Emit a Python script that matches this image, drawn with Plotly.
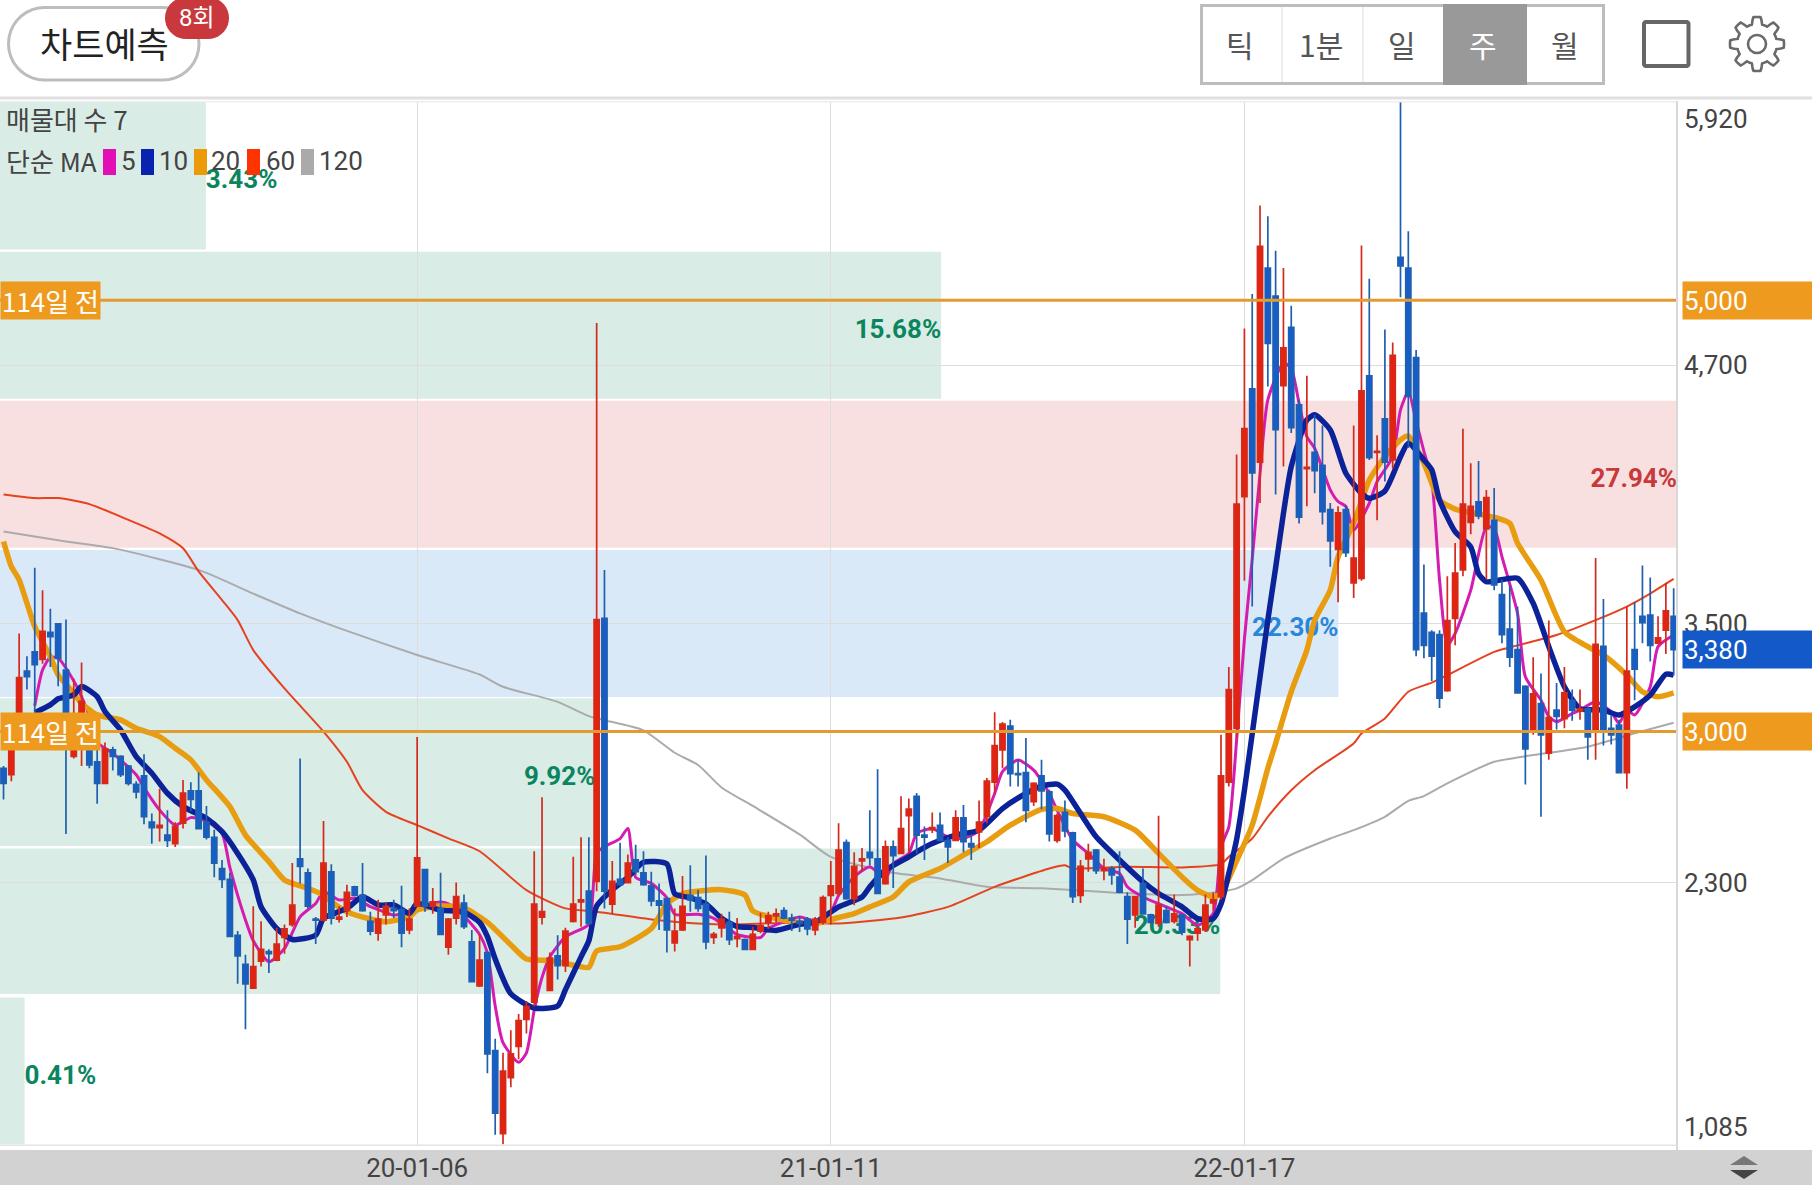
import math
import pandas as pd
import plotly.graph_objects as go

W, H = 1812, 1187
FONT = "Roboto, Noto Sans CJK KR"
KR = "Noto Sans CJK KR, Roboto"

weeks = pd.date_range("2018-12-31", periods=215, freq="7D")

opens = [2830,2800,2960,3280,3370,3335,3460,3500,3285,2885,2990,2990,2860,2760,2915,2885,2840,2755,2795,2580,
    2555,2520,2480,2575,2725,2725,2580,2510,2365,2315,2055,1920,1810,1935,1980,1940,2045,2105,2410,2345,
    2130,2125,2350,2130,2170,2280,2240,2120,2065,2150,2180,2175,2080,2190,2360,2190,2180,2000,2135,2205,
    2025,1820,1975,1520,1135,1395,1540,1665,1745,2140,1800,1960,1915,2120,2210,2260,2305,3525,2200,2315,
    2300,2405,2345,2285,2215,2225,2020,2080,2240,2230,2200,2045,2090,2115,2040,2035,1990,2075,2115,2145,
    2170,2135,2120,2130,2080,2115,2240,2250,2485,2225,2400,2440,2410,2295,2465,2435,2610,2700,2520,2545,
    2565,2495,2495,2600,2480,2535,2605,2765,2915,3025,2805,2810,2675,2795,2720,2495,2625,2530,2240,2410,
    2450,2355,2365,2325,2235,2150,2295,2150,2110,2170,2120,2150,2035,2065,2080,2205,2235,2765,3015,4090,
    4590,4250,5150,5020,4605,4875,4515,4220,4295,4235,4030,3845,4030,3690,3710,4650,4295,4450,4260,5200,
    5150,4735,3550,3460,3450,3190,3525,3750,3970,4065,3940,3980,3635,3475,3380,3210,3005,3130,2900,3100,
    3060,3145,3095,3105,3005,3395,3015,3030,2810,3380,3535,3540,3410,3470,3535]
highs = [2840,3000,3455,3350,3760,3655,3570,3500,3520,3245,3320,3055,2990,2950,2930,2890,2845,2770,2895,2620,
    2735,2635,2580,2775,2765,2810,2655,2545,2405,2345,2075,1965,2190,2120,1990,2090,2105,2390,2875,2365,
    2140,2585,2385,2190,2290,2285,2390,2165,2220,2205,2220,2285,2180,2975,2360,2275,2345,2135,2300,2245,
    2080,2060,1980,1575,1510,1615,1690,1750,2445,2695,1975,2055,2090,2420,2510,2510,4895,3750,2400,2485,
    2430,2475,2445,2350,2295,2230,2180,2330,2380,2265,2425,2070,2155,2165,2135,2040,2095,2160,2165,2180,
    2185,2155,2145,2140,2140,2240,2400,2575,2500,2440,2460,2635,2825,2495,2495,2700,2690,2715,2560,2625,
    2625,2510,2635,2660,2525,2680,2785,3090,3045,3055,2870,2970,2765,2870,2730,2620,2680,2535,2405,2480,
    2455,2410,2375,2445,2255,2235,2365,2155,2610,2190,2245,2155,2055,2100,2245,2255,2985,3300,4285,4870,
    5030,5440,5390,5230,5150,4975,4540,4650,4470,4420,4060,4045,4050,4420,5255,5100,4375,4865,4805,5920,
    5320,4770,3775,3470,3470,3720,3875,4405,4245,4255,4120,4130,3705,3680,3580,3215,3345,3270,3515,3225,
    3300,3195,3195,3115,3805,3615,3075,3055,3580,3600,3770,3715,3535,3690,3665]
lows = [2685,2770,2915,3195,3085,3315,3300,3210,2525,2875,2840,2830,2665,2760,2820,2790,2750,2690,2570,2480,
    2490,2465,2465,2550,2630,2550,2500,2325,2275,2050,1830,1620,1810,1910,1880,1935,1970,2095,2295,2180,
    2015,2120,2105,2115,2140,2235,2165,2055,2030,2105,2135,2000,2060,2190,2165,2155,2060,1965,2105,2085,
    1840,1815,1415,1130,1085,1350,1480,1600,1725,2105,1800,1850,1885,2115,2095,2105,2260,2180,2155,2290,
    2295,2335,2285,2190,2080,1975,1980,2075,2165,2165,1990,2015,2045,2010,2000,1990,1990,2065,2085,2115,
    2130,2075,2070,2055,2055,2105,2105,2240,2220,2195,2350,2380,2250,2290,2275,2435,2435,2435,2405,2530,
    2495,2390,2495,2440,2405,2460,2575,2715,2830,2745,2745,2580,2655,2640,2490,2485,2510,2205,2205,2350,
    2340,2310,2290,2250,2015,2090,2150,2110,2095,2110,2110,2055,1910,2030,2070,2170,2220,2745,2970,3700,
    3580,4060,4600,4100,4230,4385,3965,4045,4105,3960,3765,3600,3810,3620,3700,4260,3980,4160,4220,5015,
    4315,3350,3340,3235,3110,3185,3400,3720,3915,3985,3705,3655,3410,3300,3175,2755,2985,2605,2870,3010,
    3015,3050,3055,2870,2870,2935,2940,2810,2735,3145,3410,3325,3410,3360,3260]
closes = [2760,2990,3250,3255,3310,3465,3440,3340,2960,2960,3140,2845,2760,2920,2885,2800,2760,2720,2605,2555,
    2565,2495,2560,2715,2685,2550,2510,2390,2315,2050,1960,1830,1910,1990,1970,2015,2085,2195,2375,2190,
    2125,2390,2135,2140,2255,2240,2170,2075,2130,2190,2170,2065,2130,2415,2190,2210,2060,2130,2235,2095,
    1840,1940,1505,1230,1425,1505,1660,1725,2200,2165,1950,1915,2075,2200,2220,2110,3520,2260,2305,2290,
    2390,2350,2290,2215,2195,2080,2075,2190,2220,2180,2025,2060,2130,2035,2050,1990,2060,2100,2145,2155,
    2135,2125,2110,2085,2130,2230,2285,2450,2225,2375,2410,2415,2250,2465,2425,2550,2640,2520,2510,2555,
    2495,2465,2600,2490,2465,2580,2770,2935,3035,2805,2800,2635,2760,2725,2525,2610,2540,2235,2375,2440,
    2355,2365,2335,2255,2130,2235,2155,2115,2195,2115,2155,2070,2050,2085,2195,2220,2795,3195,4055,4405,
    4200,5250,4800,4400,4780,4410,3995,4225,4210,4020,3885,4015,3830,3805,4580,4270,4300,4250,4745,5160,
    4555,3380,3400,3350,3155,3515,3735,4055,4045,4000,4085,3680,3450,3345,3180,2920,3175,2985,3065,3070,
    3180,3100,3105,2975,3405,3000,2985,2810,3280,3290,3505,3400,3435,3560,3380]

ma5_idx = [4,5,6,7,9,10,11,12,14,17,18,20,22,24,26,28,29,31,32,34,36,38,40,41,43,45,47,48,50,52,53,
    56,57,59,61,62,63,64,66,67,68,69,70,72,73,75,76,77,79,80,81,83,85,86,89,91,94,97,98,102,104,106,107,
    109,111,113,114,116,117,119,121,123,125,127,128,130,132,134,135,137,139,141,143,144,146,149,151,153,155,156,
    157,158,159,160,161,162,164,165,166,167,168,170,171,172,173,175,176,178,179,180,181,182,183,184,185,186,188,190,191,192,
    194,195,197,198,199,201,202,204,206,207,208,209,211,212,214]
ma5 = [3120,3286,3345,3340,3235,3162,3070,2950,2899,2800,2740,2636,2567,2601,2585,2528,2370,2126,2030,1933,1994,2141,2203,2257,2219,2227,2188,2175,2149,2165,2188,
    2210,2201,2144,2059,1974,1727,1557,1466,1510,1708,1860,1955,2049,2068,2106,2438,2466,2504,2551,2324,2296,2229,2153,2153,2134,2059,2045,2087,2140,2121,2163,2240,
    2326,2373,2320,2388,2435,2527,2550,2512,2504,2543,2713,2814,2868,2821,2713,2636,2497,2435,2365,2342,2280,2233,2187,2156,2102,2156,2465,
    2558,2960,3430,3800,4198,4538,4709,4685,4523,4368,4314,4121,4067,4044,3935,4059,4159,4275,4492,4577,4440,4300,4167,3703,3401,3455,3656,3950,3943,3811,
    3548,3254,3146,3069,3046,3084,3100,3138,3092,3038,3100,3077,3208,3394,3448]

ma10_idx = [4,6,7,9,10,12,13,15,17,19,21,23,26,28,30,32,33,35,37,40,41,44,46,48,50,52,53,
    56,59,61,62,63,65,68,71,72,74,75,76,78,80,82,85,86,88,90,92,94,96,99,102,104,107,
    110,111,113,116,117,119,122,125,128,131,133,135,136,138,140,143,146,148,151,153,155,156,157,158,159,160,161,162,163,164,165,
    167,168,170,172,174,175,177,179,180,182,183,184,186,188,189,190,194,196,198,200,202,205,207,209,211,213,214]
ma10 = [3088,3124,3152,3170,3209,3162,3093,3008,2884,2807,2714,2652,2598,2536,2435,2312,2188,2087,2036,2056,2134,2180,2234,2196,2196,2157,2203,
    2172,2163,2115,2049,1945,1784,1718,1727,1803,1955,2030,2191,2267,2324,2394,2386,2248,2229,2201,2134,2096,2091,2078,2106,2115,2187,
    2233,2280,2357,2419,2442,2481,2520,2543,2643,2713,2747,2756,2728,2620,2512,2404,2303,2249,2187,2133,2133,2200,2342,2500,2729,2991,3254,3517,3760,4012,4229,
    4445,4469,4399,4198,4105,4082,4116,4275,4337,4260,4214,4074,3927,3857,3733,3695,3711,3595,3394,3208,3107,3100,3077,3115,3169,3266,3262]

ma20_idx = [0,1,2,3,4,6,7,9,10,12,15,17,20,22,24,26,29,31,34,36,39,41,42,44,47,49,52,53,
    56,59,62,65,67,70,73,75,76,79,83,85,87,92,95,96,100,104,107,109,111,114,116,120,123,126,129,133,135,137,141,145,148,151,153,155,156,158,160,
    162,163,165,167,168,170,171,173,175,177,179,180,182,184,186,188,191,193,194,197,200,203,205,208,210,212,214]
ma20 = [3882,3766,3704,3596,3487,3348,3263,3178,3131,3077,3054,3015,2977,2923,2869,2776,2652,2520,2397,2312,2273,2242,2211,2165,2131,2118,2141,2172,
    2191,2182,2115,2011,1945,1939,1917,1907,1983,2002,2087,2201,2248,2267,2242,2169,2125,2110,2138,2156,2187,2233,2303,2365,2427,2489,2566,2639,2643,2620,2605,2543,2435,2326,2264,2233,2250,2400,2566,
    2830,2945,3185,3378,3517,3657,3811,3966,4167,4275,4353,4371,4245,4074,4032,4015,3994,3966,3873,3703,3463,3394,3355,3262,3185,3162,3180]

ma60_idx = [0,4,7,11,16,20,23,25,28,30,32,36,41,44,46,49,53,57,61,67,72,76,84,92,102,107,115,121,127,134,136,137,144,151,156,157,160,162,
    165,168,173,174,177,180,183,185,191,194,199,204,208,211,214]
ma60 = [4100,4083,4083,4055,3982,3919,3850,3743,3610,3517,3378,3200,3000,2860,2728,2628,2566,2505,2445,2265,2180,2165,2125,2105,2115,2110,2138,2187,2280,2365,2380,2365,2373,2370,2385,2419,2504,2605,
    2728,2821,2945,2991,3061,3185,3227,3262,3370,3400,3448,3517,3580,3640,3708]

ma120_idx = [0,8,14,25,32,38,43,53,61,64,71,75,77,82,86,89,92,96,102,106,114,120,126,133,142,150,154,158,160,164,170,173,177,180,182,185,191,196,203,209,214]
ma120 = [3928,3882,3851,3750,3640,3548,3480,3355,3265,3208,3138,3072,3053,3006,2902,2845,2741,2655,2523,2419,2345,2319,2280,2273,2254,2241,2249,2273,2311,2411,2504,2543,2605,2679,2701,2760,2860,2891,2930,2992,3041]

zone_pct = [3.43, 15.68, 27.94, 22.30, 9.92, 20.33, 0.41]
zone_top = [5920, 5225, 4534, 3842, 3155, 2458, 1767]
zone_bottom = [5236, 4544, 3853, 3161, 2469, 1783, 1085]
zone_fill = ["#d9ece5", "#d9ece5", "#f9e0e0", "#dae9f8", "#d9ece5", "#d9ece5", "#d9ece5"]
zone_text = ["#0b8560", "#0b8560", "#c8393b", "#2a86d8", "#0b8560", "#0b8560", "#0b8560"]

y_ticks = [2300, 3500, 4700]
x_ticks = ["2020-01-06", "2021-01-11", "2022-01-17"]
intervals = ["틱", "1분", "일", "주", "월"]

x_range = [pd.Timestamp("2018-12-27 20:00"), pd.Timestamp("2023-02-09 00:00")]


def px(x):
    return x / W


def py(y):
    return 1 - y / H


def rect(x0, y0, x1, y1, fill=None, line=None, lw=0, layer="above"):
    return dict(type="rect", xref="paper", yref="paper", x0=px(x0), x1=px(x1), y0=py(y0), y1=py(y1),
                fillcolor=fill or "rgba(0,0,0,0)", line=dict(color=line or "rgba(0,0,0,0)", width=lw), layer=layer)


def round_box(x0, y0, x1, y1, r, fill, line, lw):
    pts = []
    for cx, cy, a0 in [(x1 - r, y0 + r, -90), (x1 - r, y1 - r, 0), (x0 + r, y1 - r, 90), (x0 + r, y0 + r, 180)]:
        for k in range(0, 10):
            a = math.radians(a0 + k * 10)
            pts.append((cx + r * math.cos(a), cy + r * math.sin(a)))
    return poly(pts, fill, line, lw)


def poly(pts, fill, line, lw):
    path = "M" + " L".join(f"{px(a):.5f},{py(b):.5f}" for a, b in pts) + " Z"
    return dict(type="path", xref="paper", yref="paper", path=path, fillcolor=fill,
                line=dict(color=line, width=lw), layer="above")


def gear(cx, cy):
    pts = []
    for k in range(240):
        a = 2 * math.pi * k / 240
        r = 23.5 + 3.5 * max(-1, min(1, 2.2 * math.cos(8 * a)))
        pts.append((cx + r * math.cos(a), cy + r * math.sin(a)))
    return poly(pts, "white", "#6a6a6a", 2.6)


def label(x, y, text, size=26, color="#444444", anchor="left", family=FONT):
    return dict(xref="paper", yref="paper", x=px(x), y=py(y), text=text, showarrow=False, xanchor=anchor,
                yanchor="middle", font=dict(family=family, size=size, color=color))


fig = go.Figure()

# percentages sit under the lines and candles
span = x_range[1] - x_range[0]
for i, pct in enumerate(zone_pct):
    outside = pct < 5
    fig.add_trace(go.Scatter(
        x=[x_range[0] + span * (pct / max(zone_pct))],
        y=[(zone_top[i] + zone_bottom[i]) / 2 - 28],
        mode="text",
        text=[f"{pct:.2f}%"],
        textposition="middle right" if outside else "middle left",
        textfont=dict(family="Roboto", size=26, color=zone_text[i], weight="bold"),
        cliponaxis=False,
        showlegend=False,
        zorder=0,
    ))

ma_lines = [
    (ma120_idx, ma120, "#ababab", 2),
    (ma60_idx, ma60, "#e5431f", 2),
    (ma5_idx, ma5, "#d41cb0", 3),
    (ma20_idx, ma20, "#e89c10", 5.5),
    (ma10_idx, ma10, "#0c2299", 5.5),
]
for idx, vals, color, width in ma_lines:
    fig.add_trace(go.Scatter(
        x=weeks[idx],
        y=vals,
        mode="lines",
        line=dict(color=color, width=width, shape="spline", smoothing=0.6),
        showlegend=False,
        zorder=1,
    ))

fig.add_trace(go.Candlestick(
    x=weeks,
    open=opens,
    high=highs,
    low=lows,
    close=closes,
    increasing=dict(line=dict(color="#d42a1c", width=1.7), fillcolor="#e3220f"),
    decreasing=dict(line=dict(color="#1f5fb0", width=1.7), fillcolor="#165dc8"),
    showlegend=False,
    zorder=2,
))

shapes = []
for i, pct in enumerate(zone_pct):
    shapes.append(dict(type="rect", xref="x domain", yref="y", x0=0, x1=pct / max(zone_pct),
                       y0=zone_bottom[i], y1=zone_top[i], fillcolor=zone_fill[i], line_width=0, layer="below"))

for price in [5000, 3000]:
    shapes.append(dict(type="line", xref="x domain", yref="y", x0=0, x1=1, y0=price, y1=price,
                       line=dict(color="#e39b2f", width=3), layer="above"))

# frame, header and bottom bar
shapes += [
    rect(0, 96.5, W, 99.5, fill="#e0e0e0"),
    rect(0, 101, 1677, 102.5, fill="#eeeeee"),
    rect(1676, 101, 1678, 1150, fill="#d8d8d8"),
    rect(0, 1144.5, 1677, 1146, fill="#e4e4e4"),
    rect(0, 1150, W, 1185, fill="#d2d2d2", layer="below"),
    round_box(8.5, 7.5, 199, 80, 36, "white", "#bdbdbd", 3),
    round_box(165, -3, 229, 39, 21, "#c8383c", "#c8383c", 0),
    rect(1201.5, 5.5, 1603.5, 83.5, fill="white", line="#bdbdbd", lw=3),
    rect(1281, 7, 1283, 82, fill="#eeeeee"),
    rect(1362, 7, 1364, 82, fill="#eeeeee"),
    rect(1443, 4, 1527, 85, fill="#999999"),
    round_box(1644, 22, 1688.5, 66, 2, "white", "#666666", 4),
    gear(1757, 44),
    dict(type="circle", xref="paper", yref="paper", x0=px(1748), x1=px(1766), y0=py(53), y1=py(35),
         line=dict(color="#6a6a6a", width=2.6), fillcolor="white", layer="above"),
    poly([(1730, 1165), (1744, 1156), (1758, 1165)], "#777777", "#777777", 0),
    poly([(1730, 1170), (1744, 1179), (1758, 1170)], "#444444", "#444444", 0),
]

swatches = [(103, "#e10fb4"), (141, "#0a22b0"), (194, "#ec9a07"), (247, "#ff3300"), (301, "#aaaaaa")]
for x0, color in swatches:
    shapes.append(rect(x0, 149, x0 + 13, 175, fill=color))

annotations = [
    label(104, 42, "차트예측", size=35, color="#222222", anchor="center", family=KR),
    label(197, 18, "8회", size=24, color="white", anchor="center", family=FONT),
    label(4, 118, "매물대 수 7", family=KR),
    label(4, 161, "단순 MA", family=KR),
    label(119, 161, "5"),
    label(157, 161, "10"),
    label(209, 161, "20"),
    label(264, 161, "60"),
    label(317, 161, "120"),
    label(1682, 119, "5,920"),
    label(1682, 1127, "1,085"),
]
for text, xc in zip(intervals, [1239.5, 1321, 1402, 1483, 1564.5]):
    color = "white" if text == "주" else "#555555"
    annotations.append(label(xc, 44, text, size=30, color=color, anchor="center", family=KR))

for price, text, color in [(5000, "5,000", "#ee9a1e"), (3000, "3,000", "#ee9a1e"), (3380, "3,380", "#1459c8")]:
    annotations.append(dict(xref="paper", yref="y", x=px(1682), y=price, text=text, showarrow=False,
                            xanchor="left", yanchor="middle", align="left", width=130, height=35,
                            bgcolor=color, font=dict(family=FONT, size=26, color="white")))

for price in [5000, 3000]:
    annotations.append(dict(xref="paper", yref="y", x=0, y=price, text="114일 전", showarrow=False,
                            xanchor="left", yanchor="middle", align="left", width=97, height=35,
                            bgcolor="#ee9a1e", font=dict(family=KR, size=26, color="white")))

fig.update_layout(
    width=W,
    height=H,
    autosize=False,
    margin=dict(l=0, r=0, t=0, b=0),
    paper_bgcolor="white",
    plot_bgcolor="rgba(0,0,0,0)",
    showlegend=False,
    boxgap=0.34,
    boxgroupgap=0,
    shapes=shapes,
    annotations=annotations,
    xaxis=dict(
        domain=[0, 1677 / W],
        type="date",
        range=x_range,
        tickvals=x_ticks,
        tickformat="%y-%m-%d",
        tickfont=dict(family=FONT, size=26, color="#444444"),
        showgrid=True,
        gridcolor="#dddddd",
        gridwidth=1.2,
        zeroline=False,
        rangeslider=dict(visible=False),
        ticklen=0,
        ticklabelstandoff=5,
    ),
    yaxis=dict(
        domain=[1 - 1144.5 / H, 1 - 102 / H],
        range=[1085, 5920],
        side="right",
        tickvals=y_ticks,
        tickformat=",d",
        tickfont=dict(family=FONT, size=26, color="#444444"),
        showgrid=True,
        gridcolor="#dddddd",
        gridwidth=1.2,
        zeroline=False,
        ticklen=0,
        ticklabelstandoff=6,
    ),
)

fig.write_html(
    "out.html",
    config=dict(displayModeBar=False),
    post_script="document.body.style.margin='0';document.documentElement.style.overflow='hidden';",
)
